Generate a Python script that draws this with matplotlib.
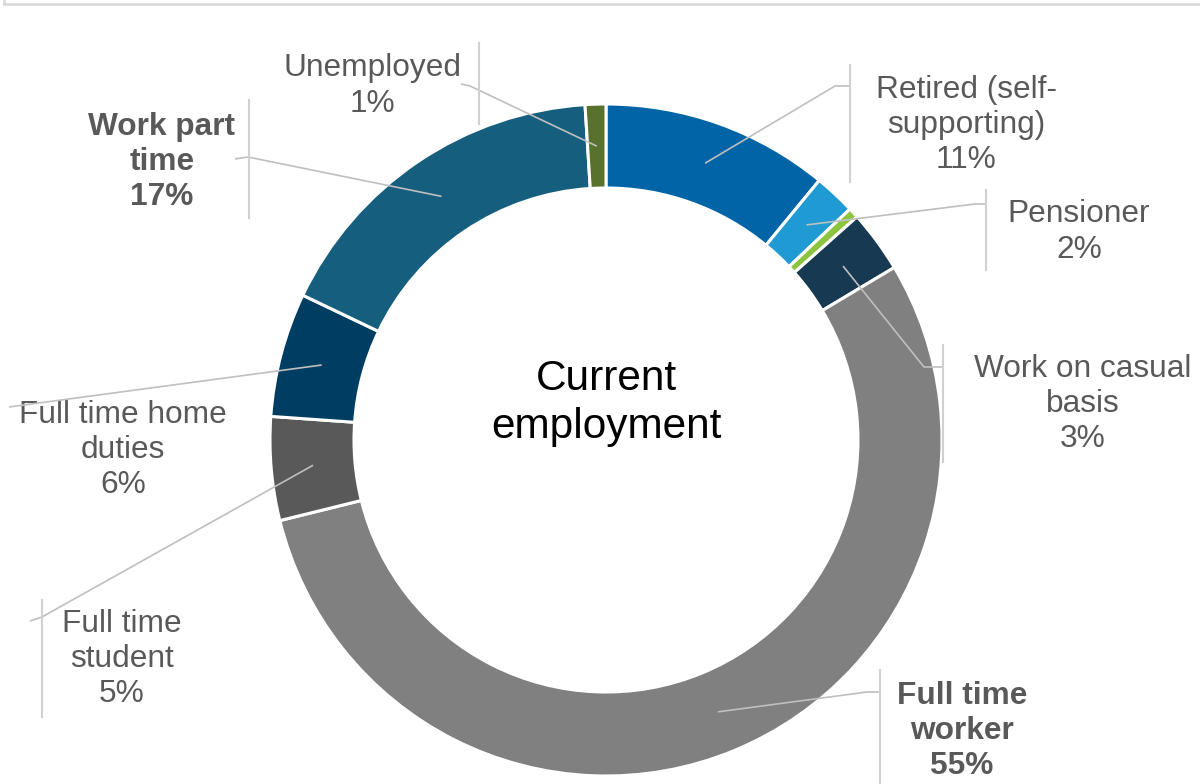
import numpy as np
import matplotlib.pyplot as plt

plt.rcParams['font.family'] = ['Liberation Sans', 'DejaVu Sans']

# Current employment shares, clockwise from the top
categories = ["Retired (self-\nsupporting)", "Pensioner", "Other",
              "Work on casual\nbasis", "Full time\nworker", "Full time\nstudent",
              "Full time home\nduties", "Work part\ntime", "Unemployed"]
values = [11, 2, 0.5, 3, 55, 5, 6, 17, 1]
show_label = [True, True, False, True, True, True, True, True, True]
bold = [False, False, False, False, True, False, False, True, False]
colors = ["#0064A7", "#209AD3", "#8CC43F", "#173A52", "#808080",
          "#595959", "#003D63", "#165E7E", "#58722E"]

W, H = 1200, 784
fig = plt.figure(figsize=(W / 100, H / 100), dpi=100)
ax = fig.add_axes([0, 0, 1, 1])

cx, cy, R, width = 606, 440, 336, 84
wedges, _ = ax.pie(values, colors=colors, center=(cx, cy), radius=R,
                   startangle=-90, counterclock=True,
                   wedgeprops=dict(width=width, edgecolor="white", linewidth=2.2))
ax.set_xlim(0, W)
ax.set_ylim(H, 0)
ax.set_aspect("equal")
ax.axis("off")

ax.text(cx, 403, "Current\nemployment", ha="center", va="center",
        fontsize=30.5, color="black", linespacing=1.24)

# label placement: text centre, leader elbow, leader end, bar x and bar span
layout = {
    0: dict(xy=(966, 125), elbow=(835, 86), end=(850, 86), bar=(850, 65, 182)),
    1: dict(xy=(1079, 232), elbow=(975, 204), end=(986, 204), bar=(986, 190, 270)),
    3: dict(xy=(1083, 404), elbow=(924, 367), end=(943, 367), bar=(943, 345, 462)),
    4: dict(xy=(962, 731), elbow=(867, 692), end=(880, 692), bar=(880, 670, 790)),
    5: dict(xy=(122, 659), elbow=(42, 617), end=(30, 621), bar=(42, 600, 717)),
    6: dict(xy=(123, 450), elbow=(9, 407), end=(9, 407), bar=None),
    7: dict(xy=(162, 162), elbow=(248, 157), end=(235, 159), bar=(249, 100, 218)),
    8: dict(xy=(372, 86), elbow=(470, 86), end=(461, 84), bar=(479, 43, 124)),
}

lead_col = "#BFBFBF"
r_mid = R - width / 2
for i, w in enumerate(wedges):
    if not show_label[i]:
        continue
    lay = layout[i]
    txt = f"{categories[i]}\n{values[i]:g}%"
    ax.text(lay["xy"][0], lay["xy"][1], txt, ha="center", va="center",
            fontsize=22.8, color="#595959",
            fontweight="bold" if bold[i] else "normal", linespacing=1.22)
    th = np.deg2rad((w.theta1 + w.theta2) / 2)
    ax_pt = (cx + r_mid * np.cos(th), cy + r_mid * np.sin(th))
    xs = [ax_pt[0], lay["elbow"][0], lay["end"][0]]
    ys = [ax_pt[1], lay["elbow"][1], lay["end"][1]]
    ax.plot(xs, ys, color=lead_col, lw=1.2, solid_capstyle="butt", zorder=5)
    if lay["bar"] is not None:
        bx, y0, y1 = lay["bar"]
        ax.plot([bx, bx], [y0, y1], color="#D0D0D0", lw=1.5, zorder=5)

# frame edge along the top
ax.plot([4, W], [3.5, 3.5], color="#D9D9D9", lw=1.8, clip_on=False)
ax.plot([4, 4], [0, 3.5], color="#D9D9D9", lw=1.8, clip_on=False)

fig.savefig("out.png", dpi=100)
